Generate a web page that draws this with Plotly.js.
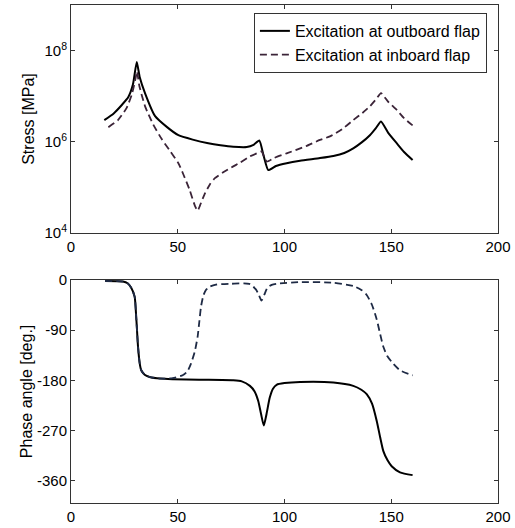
<!DOCTYPE html>
<html>
<head>
<meta charset="utf-8">
<script src="https://cdn.plot.ly/plotly-3.0.1.min.js"></script>
<style>
html,body{margin:0;padding:0;background:#fff;}
#chart{width:515px;height:528px;}
</style>
</head>
<body>
<div id="chart"></div>
<script>
// Frequency (x) and stress (y) – top panel
const outStressX = [15.6, 20, 24, 26.8, 29, 30.8, 32.2, 34.7, 39.3, 45, 50.3, 57, 64.3, 70, 76, 82.3, 85.5, 88.2, 90.2, 92.4, 96, 101, 107.3, 116.6, 122.9, 128, 132.2, 136, 140, 142.8, 145.2, 148.5, 152.6, 156, 160];
const outStressY = [3.0e6, 4.2e6, 6.6e6, 9.5e6, 1.8e7, 5.6e7, 2.6e7, 1.15e7, 3.7e6, 2.1e6, 1.4e6, 1.12e6, 9.3e5, 8.4e5, 7.8e5, 7.7e5, 8.6e5, 1.07e6, 5.0e5, 2.4e5, 2.95e5, 3.4e5, 3.85e5, 4.4e5, 4.9e5, 5.7e5, 7.2e5, 9.6e5, 1.4e6, 2.0e6, 2.8e6, 1.6e6, 9.3e5, 6.0e5, 4.0e5];
const inStressX = [17.5, 22, 26, 28.5, 30.2, 30.9, 32, 34.7, 38.5, 42.5, 46.5, 50.3, 52.6, 55.5, 58.1, 59.3, 60.4, 62.5, 65.1, 67.4, 71.3, 76, 79.2, 83.8, 87, 89.3, 90.5, 91.7, 95, 101, 110, 116.6, 121.3, 127, 132.2, 136.5, 140, 143, 145.2, 148.5, 152.6, 156, 160];
const inStressY = [2.1e6, 3.0e6, 5.5e6, 1.1e7, 2.4e7, 3.5e7, 1.7e7, 6.0e6, 2.4e6, 1.15e6, 6.2e5, 3.4e5, 1.95e5, 9.0e4, 3.9e4, 3.1e4, 4.0e4, 7.0e4, 1.18e5, 1.6e5, 2.15e5, 2.9e5, 3.5e5, 4.8e5, 5.6e5, 6.2e5, 4.6e5, 3.7e5, 4.4e5, 5.6e5, 8.0e5, 1.1e6, 1.32e6, 1.9e6, 3.0e6, 4.3e6, 6.0e6, 8.7e6, 1.17e7, 7.6e6, 5.0e6, 3.3e6, 2.3e6];

// Phase angle – bottom panel
const outPhaseX = [16, 24.3, 26.5, 28.2, 29.8, 30.6, 31.4, 32.2, 32.9, 34.5, 36.8, 42, 47.6, 60, 76, 80, 83.8, 86, 87.7, 89, 90.3, 91.6, 93.1, 94.6, 96.3, 100, 107.3, 122.9, 132.2, 136, 138.5, 141, 143.2, 144.8, 146.3, 148.2, 150.2, 154.1, 160];
const outPhaseY = [-2, -3, -6, -14, -30, -70, -120, -150, -162, -170, -174, -177, -178, -179, -180, -182, -190, -200, -217, -240, -261, -240, -211, -195, -188, -185, -183, -184, -190, -197, -205, -222, -253, -282, -307, -323, -334, -345, -350];
const inPhaseX = [16, 24.3, 26.5, 28.2, 29.8, 30.6, 31.4, 32.2, 32.9, 34.5, 36.8, 42, 47.6, 52.3, 54.5, 56.2, 58, 59.3, 60.1, 60.9, 62, 63.2, 65, 67.9, 75, 83.5, 86.6, 88, 89.2, 90.5, 92, 94, 96.3, 107.3, 122.9, 132.2, 136, 138.5, 141, 143.2, 144.8, 146.3, 148.2, 150.2, 154.1, 160];
const inPhaseY = [-2, -3, -6, -14, -30, -70, -120, -150, -162, -170, -174, -177, -176, -171, -164, -150, -128, -102, -75, -48, -28, -18, -12, -8.5, -7, -7, -17, -27, -37, -27, -14, -9, -7, -4, -5, -11, -18, -27, -45, -71, -97, -120, -137, -147, -162, -171];

const xTicks = [0, 50, 100, 150, 200];
const stressTicks = [1e4, 1e6, 1e8];
const stressTickText = ['10<sup>4</sup>', '10<sup>6</sup>', '10<sup>8</sup>'];
const phaseTicks = [0, -90, -180, -270, -360];
const phaseTickText = ['0', '-90', '-180', '-270', '-360'];

const seriesNames = ['Excitation at outboard flap', 'Excitation at inboard flap'];

const FONT = 'Liberation Sans, Arial, sans-serif';

const traces = [
  {x: outStressX, y: outStressY, xaxis: 'x', yaxis: 'y', mode: 'lines', name: seriesNames[0],
   line: {color: '#000000', width: 2, shape: 'spline', smoothing: 0.5}},
  {x: inStressX, y: inStressY, xaxis: 'x', yaxis: 'y', mode: 'lines', name: seriesNames[1],
   line: {color: '#3b2438', width: 1.8, dash: '7px,4px', shape: 'spline', smoothing: 0.5}},
  {x: outPhaseX, y: outPhaseY, xaxis: 'x2', yaxis: 'y2', mode: 'lines', showlegend: false,
   line: {color: '#000000', width: 2, shape: 'spline', smoothing: 0.6}},
  {x: inPhaseX, y: inPhaseY, xaxis: 'x2', yaxis: 'y2', mode: 'lines', showlegend: false,
   line: {color: '#1e2a45', width: 1.8, dash: '7px,4px', shape: 'spline', smoothing: 0.6}}
];

const axCommon = {
  showline: true, linecolor: '#333', linewidth: 1, mirror: 'ticks',
  ticks: 'inside', ticklen: 4, tickcolor: '#333', showgrid: false, zeroline: false,
  tickfont: {family: FONT, size: 15, color: '#000'}
};

const layout = {
  width: 515, height: 528,
  margin: {l: 71, r: 17, t: 5, b: 25},
  paper_bgcolor: '#fff', plot_bgcolor: '#fff',
  showlegend: true,
  legend: {x: 0.974, xanchor: 'right', y: 0.984, yanchor: 'top',
           bordercolor: '#333', borderwidth: 1, bgcolor: '#fff',
           font: {family: FONT, size: 16, color: '#000'},
           tracegroupgap: 0, itemwidth: 30},
  xaxis: Object.assign({}, axCommon, {domain: [0, 1], range: [0, 200], tickvals: xTicks, anchor: 'y'}),
  yaxis: Object.assign({}, axCommon, {domain: [0.542, 1], type: 'log', range: [4, 9],
           tickvals: stressTicks, ticktext: stressTickText, anchor: 'x',
           title: {text: 'Stress [MPa]', font: {family: FONT, size: 16, color: '#000'}, standoff: 5}}),
  xaxis2: Object.assign({}, axCommon, {domain: [0, 1], range: [0, 200], tickvals: xTicks, anchor: 'y2'}),
  yaxis2: Object.assign({}, axCommon, {domain: [0, 0.448], range: [-400, 0],
           tickvals: phaseTicks, ticktext: phaseTickText, anchor: 'x2',
           title: {text: 'Phase angle [deg.]', font: {family: FONT, size: 16, color: '#000'}, standoff: 0}})
};

Plotly.newPlot('chart', traces, layout, {staticPlot: true, displayModeBar: false});
</script>
</body>
</html>
